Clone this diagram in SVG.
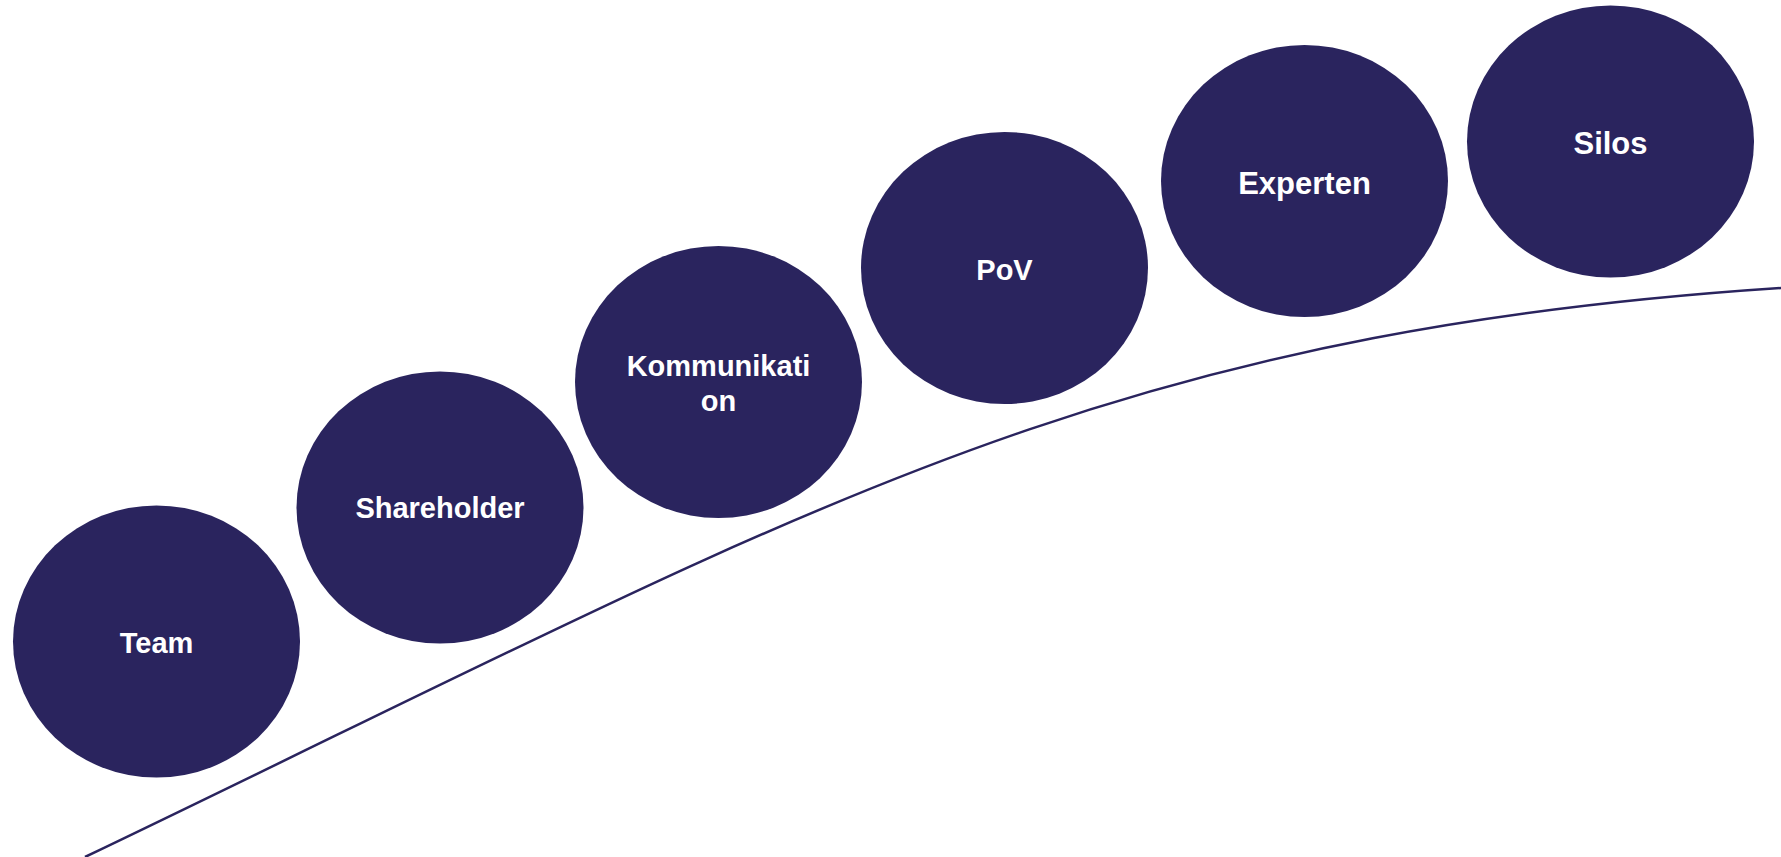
<svg xmlns="http://www.w3.org/2000/svg" width="1781" height="857" viewBox="0 0 1781 857">
<style>
.n{fill:#2A245E}
.t{fill:#FFFFFF;font-family:"Liberation Sans",Arial,sans-serif;font-weight:bold;font-size:29px;text-anchor:middle}
.b{font-size:31px}
.c{fill:none;stroke:#2A245E;stroke-width:2.5}
</style>
<rect width="1781" height="857" fill="#FFFFFF"/>
<g id="connectors">
<path class="c" d="M85,857 C785,522 1081,334 1781,288"/>
</g>
<g id="team"><ellipse class="n" cx="156.5" cy="641.5" rx="143.5" ry="136"/><text class="t" x="156.5" y="653">Team</text></g>
<g id="shareholder"><ellipse class="n" cx="440" cy="507.5" rx="143.5" ry="136"/><text class="t" x="440" y="518">Shareholder</text></g>
<g id="kommunikation"><ellipse class="n" cx="718.5" cy="382" rx="143.5" ry="136"/><text class="t" x="718.5" y="376">Kommunikati</text><text class="t" x="718.5" y="411">on</text></g>
<g id="pov"><ellipse class="n" cx="1004.5" cy="268" rx="143.5" ry="136"/><text class="t" x="1004.5" y="280">PoV</text></g>
<g id="experten"><ellipse class="n" cx="1304.5" cy="181" rx="143.5" ry="136"/><text class="t b" x="1304.5" y="194">Experten</text></g>
<g id="silos"><ellipse class="n" cx="1610.5" cy="141.5" rx="143.5" ry="136"/><text class="t b" x="1610.5" y="154">Silos</text></g>
</svg>
